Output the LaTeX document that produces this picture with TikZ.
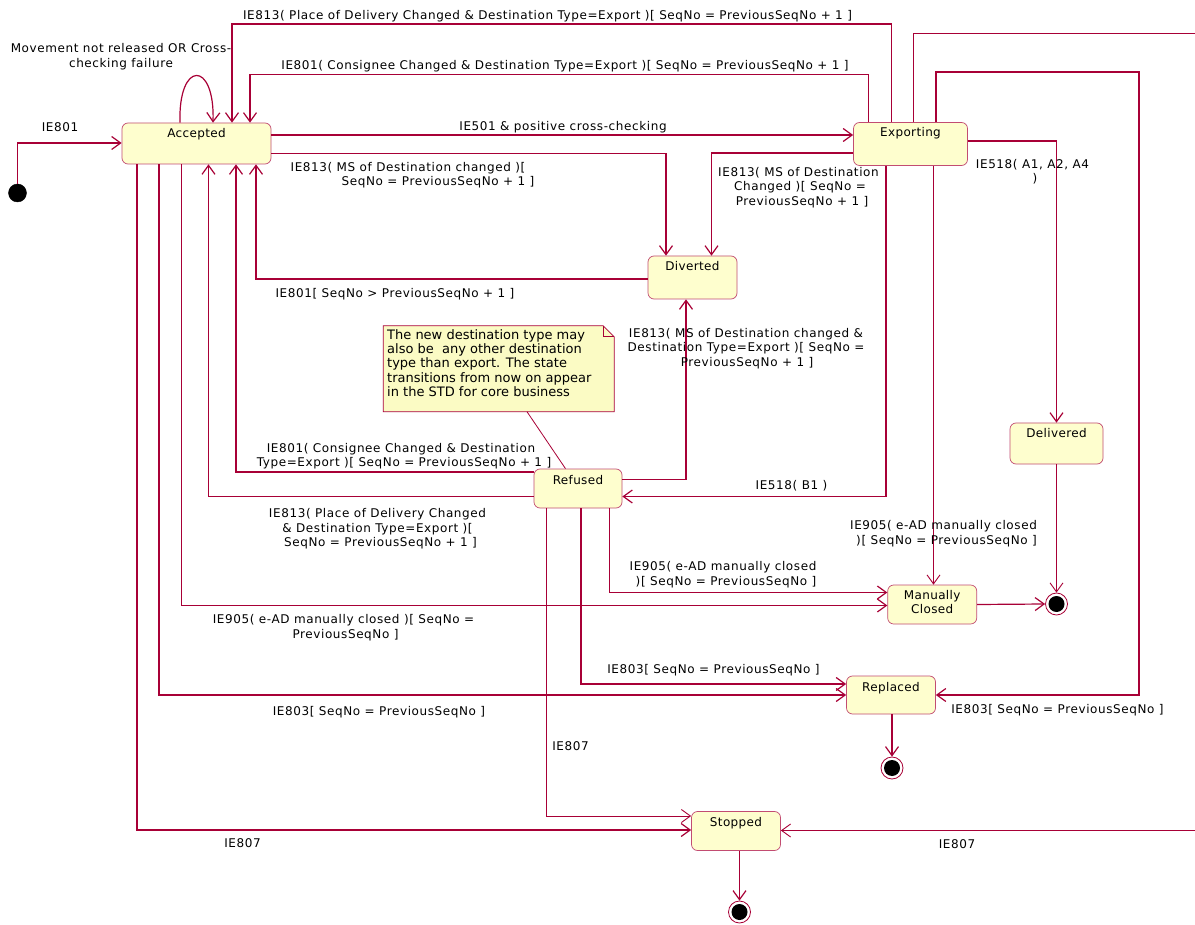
\documentclass[tikz,border=0pt]{standalone}
\usepackage{fontspec}
\setmainfont{DejaVu Sans}
\newfontfamily\lblfont{DejaVu Sans}[LetterSpace=5]
\newfontfamily\stfont{DejaVu Sans}[LetterSpace=3]
\newfontfamily\notefont{DejaVu Sans}
\usetikzlibrary{arrows.meta}
\definecolor{umlred}{HTML}{A80036}
\definecolor{stfill}{HTML}{FEFECE}
\definecolor{notefill}{HTML}{FBFBC4}
\tikzset{
  state/.style={rectangle, rounded corners=6pt, draw=umlred!70, line width=0.7pt, fill=stfill, inner sep=0pt},
  stlbl/.style={font=\stfont\fontsize{12}{14.5}\selectfont, inner sep=0pt, anchor=base},
  lbl/.style={font=\lblfont\fontsize{12}{14.5}\selectfont, inner sep=0pt, anchor=base, text=black},
  notetxt/.style={font=\notefont\fontsize{13}{14.3}\selectfont, inner sep=0pt, anchor=base west},
  edge/.style={draw=umlred, line width=1.2pt, -{Straight Barb[length=9pt,width=13pt]}},
  thinedge/.style={edge, line width=0.9pt},
  finalst/.style={circle, draw=umlred, line width=0.8pt, fill=white, minimum size=22pt, inner sep=0pt},
  initst/.style={circle, fill=black, draw=black, minimum size=18pt, inner sep=0pt},
  notebox/.style={rectangle, minimum width=230.5pt, minimum height=85.5pt, inner sep=0pt},
  noteline/.style={draw=umlred, line width=0.8pt}
}
\newcounter{labn}
\newcommand{\lab}[3]{\stepcounter{labn}\node[lbl] (lab\arabic{labn}) at (#1,#2) {#3};}
\begin{document}
\begin{tikzpicture}[x=1pt,y=-1pt]
\useasboundingbox[fill=white] (0,0) rectangle (1195,925);

% states
\node[state, minimum width=149pt, minimum height=41pt] (acc) at (196.5,143.5) {};
\node[state, minimum width=114pt, minimum height=43pt] (exp) at (910.5,144) {};
\node[state, minimum width=89pt, minimum height=43pt] (div) at (692.5,277.5) {};
\node[state, minimum width=88pt, minimum height=39pt] (ref) at (578,488.5) {};
\node[state, minimum width=93pt, minimum height=41pt] (del) at (1056.5,443.5) {};
\node[state, minimum width=89pt, minimum height=39pt] (man) at (932.2,604.5) {};
\node[state, minimum width=89pt, minimum height=38pt] (rep) at (891,695) {};
\node[state, minimum width=89pt, minimum height=39pt] (sto) at (736,831) {};

\node[stlbl] (t1) at (196.5,137.5) {Accepted};
\node[stlbl] (t2) at (910.5,136.5) {Exporting};
\node[stlbl] (t3) at (692.5,271) {Diverted};
\node[stlbl] (t4) at (578,484) {Refused};
\node[stlbl] (t5) at (1056.5,438) {Delivered};
\node[stlbl] (t6) at (932.2,599.5) {Manually};
\node[stlbl] (t7) at (932.2,613.5) {Closed};
\node[stlbl] (t8) at (891,691.5) {Replaced};
\node[stlbl] (t9) at (736,826) {Stopped};

% initial and final
\node[initst] (ini) at (17.5,193) {};
\node[finalst] (fin1) at (1056.5,604) {};
\node[finalst] (fin2) at (892,768) {};
\node[finalst] (fin3) at (739.5,912) {};
\fill (fin1.center) circle (8pt);
\fill (fin2.center) circle (8pt);
\fill (fin3.center) circle (8pt);

% note
\node[notebox] (note) at (498.75,368.75) {};
\filldraw[noteline, fill=notefill] (note.north west) -- ([xshift=-11pt]note.north east) -- ([yshift=-11pt]note.north east) -- (note.south east) -- (note.south west) -- cycle;
\draw[noteline] ([xshift=-11pt]note.north east) -- ([xshift=-11pt,yshift=-11pt]note.north east) -- ([yshift=-11pt]note.north east);
\node[notetxt] (n1) at (387,339.5) {The new destination type may};
\node[notetxt] (n2) at (387,353.5) {also be~ any other destination};
\node[notetxt] (n3) at (387,368) {type than export. The state};
\node[notetxt] (n4) at (387,382.5) {transitions from now on appear};
\node[notetxt] (n5) at (387,396.5) {in the STD for core business};
\draw[umlred, line width=0.8pt] (note.south -| 527,0) -- (ref.north -| 565.5,0);

% edges
\draw[edge] (ini.north) |- (acc.west |- 0,143);
\draw[edge] (acc.north -| 180,0) .. controls (178,60) and (215,60) .. (acc.north -| 213,0);
\draw[edge] (exp.north -| 891.5,0) |- (232,24) -- (acc.north -| 232,0);
\draw[edge] (exp.north -| 868.5,0) |- (250,74.5) -- (acc.north -| 250,0);
\draw[edge] (acc.east |- 0,135) -- (exp.west |- 0,135);
\draw[edge] (acc.east |- 0,153.5) -| (div.north -| 666,0);
\draw[edge] (exp.west |- 0,153) -| (div.north -| 711.5,0);
\draw[edge] (div.west |- 0,279) -| (acc.south -| 256,0);
\draw[edge] (ref.east |- 0,479.5) -| (div.south -| 686,0);
\draw[edge] (ref.west |- 0,472) -| (acc.south -| 236,0);
\draw[edge] (ref.west |- 0,496.5) -| (acc.south -| 208.5,0);
\draw[edge] (exp.south -| 886,0) |- (ref.east |- 0,496.5);
\draw[edge] (exp.east |- 0,141) -| (del.north);
\draw[thinedge] (del.south) -- (fin1.north);
\draw[thinedge] (exp.south -| 933.5,0) -- (man.north -| 933.5,0);
\draw[edge] (ref.south -| 609.5,0) |- (man.west |- 0,592.5);
\draw[edge] (acc.south -| 181.5,0) |- (man.west |- 0,605.5);
\draw[edge] (man.east |- 0,604.5) -- (fin1.west);
\draw[edge] (ref.south -| 581,0) |- (rep.west |- 0,684);
\draw[edge] (acc.south -| 159,0) |- (rep.west |- 0,695);
\draw[edge] (exp.north -| 936,0) |- (1139,72) |- (rep.east |- 0,695);
\draw[edge] (rep.south -| 892,0) -- (fin2.north);
\draw[thinedge] (exp.north -| 913.5,0) |- (1215,33) |- (sto.east |- 0,830.5);
\draw[thinedge] (ref.south -| 546.5,0) |- (sto.west |- 0,816);
\draw[edge] (acc.south -| 137,0) |- (sto.west |- 0,830);
\draw[edge] (sto.south -| 739.5,0) -- (fin3.north);

% labels
\lab{60}{132}{IE801}
\lab{121}{53}{Movement not released OR Cross-}
\lab{121}{67.5}{checking failure}
\lab{547.5}{20}{IE813( Place of Delivery Changed \& Destination Type=Export )[ SeqNo = PreviousSeqNo + 1 ]}
\lab{565}{69.5}{IE801( Consignee Changed \& Destination Type=Export )[ SeqNo = PreviousSeqNo + 1 ]}
\lab{563}{130.5}{IE501 \& positive cross-checking}
\lab{408}{171.5}{IE813( MS of Destination changed )[}
\lab{438}{186}{SeqNo = PreviousSeqNo + 1 ]}
\lab{798.5}{176.5}{IE813( MS of Destination}
\lab{800}{191}{Changed )[ SeqNo =}
\lab{802}{205.5}{PreviousSeqNo + 1 ]}
\lab{395}{297.5}{IE801[ SeqNo > PreviousSeqNo + 1 ]}
\lab{746}{337.5}{IE813( MS of Destination changed \&}
\lab{746}{352}{Destination Type=Export )[ SeqNo =}
\lab{747}{366.5}{PreviousSeqNo + 1 ]}
\lab{401}{452.5}{IE801( Consignee Changed \& Destination}
\lab{404}{467}{Type=Export )[ SeqNo = PreviousSeqNo + 1 ]}
\lab{377.5}{517.5}{IE813( Place of Delivery Changed}
\lab{377.5}{532}{\& Destination Type=Export )[}
\lab{380.5}{546.5}{SeqNo = PreviousSeqNo + 1 ]}
\lab{791.5}{489.5}{IE518( B1 )}
\lab{1032.5}{168.5}{IE518( A1, A2, A4}
\lab{1035}{183}{)}
\lab{943.5}{529.5}{IE905( e-AD manually closed}
\lab{946.5}{544}{)[ SeqNo = PreviousSeqNo ]}
\lab{723}{570.5}{IE905( e-AD manually closed}
\lab{726}{585}{)[ SeqNo = PreviousSeqNo ]}
\lab{343.5}{623.5}{IE905( e-AD manually closed )[ SeqNo =}
\lab{345.5}{638}{PreviousSeqNo ]}
\lab{713.5}{673.5}{IE803[ SeqNo = PreviousSeqNo ]}
\lab{379}{715.5}{IE803[ SeqNo = PreviousSeqNo ]}
\lab{1057.5}{713.5}{IE803[ SeqNo = PreviousSeqNo ]}
\lab{570.5}{750.5}{IE807}
\lab{242.5}{847.5}{IE807}
\lab{957}{848.5}{IE807}
\end{tikzpicture}
\end{document}
